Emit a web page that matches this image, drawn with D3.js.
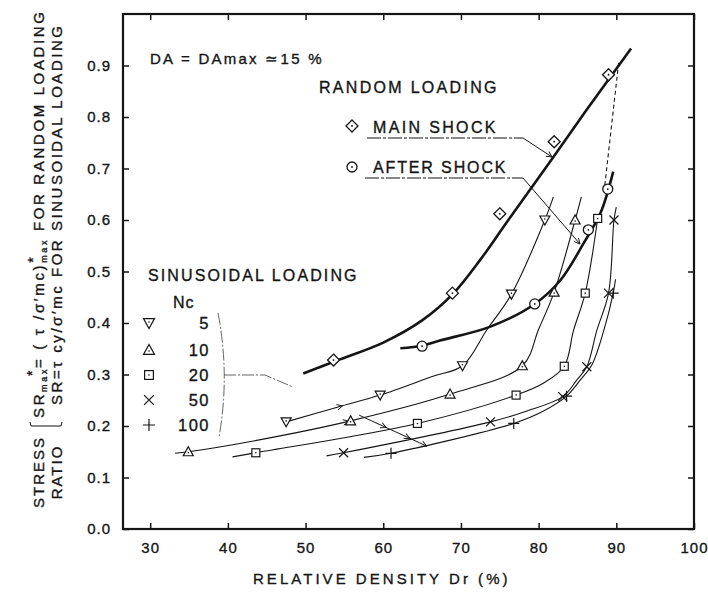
<!DOCTYPE html>
<html><head><meta charset="utf-8">
<script src="https://cdn.jsdelivr.net/npm/d3@7"></script>
<style>
body{margin:0;background:#fff}
svg{display:block}
text{font-family:"Liberation Sans",Arial,Helvetica,sans-serif;fill:#151515;stroke:#151515;stroke-width:0.35px}
</style>
</head><body>
<svg id="c" width="708" height="593"></svg>
<script>
// ---------- data ----------
const xTicks=[30,40,50,60,70,80,90,100];
const yTicks=[0,0.1,0.2,0.3,0.4,0.5,0.6,0.7,0.8,0.9];
const yTickLabels=["0.0","0.1","0.2","0.3","0.4","0.5","0.6","0.7","0.8","0.9"];

// random loading (thick curves)
const mainShockPts=[[53.6,0.328],[68.9,0.458],[75.0,0.612],[82.0,0.752],[89.0,0.882]];
const mainShockCurve=[[49.7,0.302],[54,0.327],[60,0.362],[65,0.405],[69,0.457],[72.5,0.523],[76.1,0.6],[81.7,0.718],[86,0.81],[91.9,0.933]];
const afterShockPts=[[65.0,0.355],[79.5,0.437],[86.4,0.581],[88.9,0.66]];
const afterShockCurve=[[62.2,0.351],[65,0.356],[67.3,0.366],[73.8,0.393],[79.5,0.437],[82.8,0.483],[85.8,0.555],[88,0.615],[89.6,0.694]];
const dashedLink=[[90.3,0.905],[88.5,0.665]];

// sinusoidal loading, Nc = 5,10,20,50,100
const ncLabels=["5","10","20","50","100"];
const nc5Pts=[[47.5,0.208],[59.6,0.26],[70.2,0.317],[76.5,0.456],[80.8,0.6]];
const nc5Curve=[[47.5,0.208],[54.2,0.237],[59.6,0.26],[66.3,0.296],[70.2,0.317],[73.3,0.386],[76.5,0.456],[80.8,0.6],[81.9,0.645]];
const nc10Pts=[[34.9,0.150],[55.8,0.210],[68.6,0.262],[77.9,0.317],[82.0,0.46],[84.7,0.6]];
const nc10Curve=[[33.2,0.147],[34.9,0.150],[43.3,0.171],[55.8,0.210],[68.6,0.262],[77.9,0.317],[80.0,0.388],[82.0,0.46],[84.7,0.6],[85.5,0.645]];
const nc20Pts=[[43.6,0.148],[64.4,0.205],[77.1,0.260],[83.3,0.316],[86.0,0.458],[87.6,0.603]];
const nc20Curve=[[40.6,0.140],[43.6,0.148],[64.4,0.205],[77.1,0.260],[80.6,0.283],[83.3,0.316],[84.5,0.386],[86.0,0.458],[87.6,0.603]];
const nc50Pts=[[54.9,0.148],[73.8,0.208],[83.1,0.257],[86.2,0.315],[89.0,0.458],[89.7,0.6]];
const nc50Curve=[[52.7,0.142],[54.9,0.148],[73.8,0.208],[78.5,0.229],[83.1,0.257],[84.9,0.289],[86.2,0.315],[87.5,0.386],[89.0,0.458],[89.7,0.6],[90.0,0.625]];
const nc100Pts=[[61.0,0.147],[76.8,0.205],[83.6,0.258],[89.6,0.458]];
const nc100Curve=[[57.5,0.139],[61.0,0.147],[76.8,0.205],[80.5,0.228],[83.6,0.258],[85.4,0.29],[86.9,0.32],[88.4,0.386],[89.6,0.458],[89.9,0.485]];
const arrowLine=[[56.9,0.221],[65.6,0.161]];

// ---------- layout ----------
const svg=d3.select("#c");
const L=123,R=694,T=14,B=529;
const x=d3.scaleLinear().domain([26.5,100]).range([L,R]);
const y=d3.scaleLinear().domain([0,1]).range([B,T]);
const ink="#151515";

svg.append("defs").append("marker").attr("id","ah").attr("viewBox","0 0 10 10")
 .attr("refX",9).attr("refY",5).attr("markerWidth",7).attr("markerHeight",7)
 .attr("orient","auto").attr("markerUnits","userSpaceOnUse")
 .append("path").attr("d","M1,1 L9,5 L1,9").attr("fill","none").attr("stroke",ink).attr("stroke-width",1.3);

function styleAxis(g){g.select(".domain").remove();g.selectAll(".tick line").attr("stroke",ink).attr("stroke-width",1.5);
 g.selectAll("text").style("font-size","15px").style("letter-spacing","1px").attr("fill",ink);}
svg.append("g").attr("transform",`translate(0,${B})`)
 .call(d3.axisBottom(x).tickValues(xTicks).tickSize(-6).tickPadding(13).tickFormat(d3.format("d"))).call(styleAxis);
svg.append("g").attr("transform",`translate(0,${T})`)
 .call(d3.axisTop(x).tickValues(xTicks).tickSize(-6).tickFormat("")).call(styleAxis);
svg.append("g").attr("transform",`translate(${L},0)`)
 .call(d3.axisLeft(y).tickValues(yTicks).tickSize(-6).tickPadding(12).tickFormat((d,i)=>yTickLabels[i])).call(styleAxis);
svg.append("g").attr("transform",`translate(${R},0)`)
 .call(d3.axisRight(y).tickValues(yTicks).tickSize(-6).tickFormat("")).call(styleAxis);
svg.append("rect").attr("x",L).attr("y",T).attr("width",R-L).attr("height",B-T)
 .attr("fill","none").attr("stroke",ink).attr("stroke-width",2.2);

const line=d3.line().x(d=>x(d[0])).y(d=>y(d[1])).curve(d3.curveCatmullRom.alpha(0.5));
const lineStraight=d3.line().x(d=>x(d[0])).y(d=>y(d[1]));
const plot=svg.append("g");
[nc5Curve,nc10Curve,nc20Curve,nc50Curve,nc100Curve].forEach(c=>{
 plot.append("path").attr("d",line(c)).attr("fill","none").attr("stroke",ink).attr("stroke-width",1.1);
});
plot.append("path").attr("d",line(mainShockCurve)).attr("fill","none").attr("stroke",ink).attr("stroke-width",2.6);
plot.append("path").attr("d",line(afterShockCurve)).attr("fill","none").attr("stroke",ink).attr("stroke-width",2.6);
plot.append("path").attr("d",lineStraight(dashedLink)).attr("fill","none").attr("stroke",ink).attr("stroke-width",1.1).attr("stroke-dasharray","4,3");

plot.append("path").attr("d",lineStraight(arrowLine)).attr("fill","none").attr("stroke",ink).attr("stroke-width",1).attr("marker-end","url(#ah)");
function arrowAt(a,b,t){const p=[a[0]+(b[0]-a[0])*t,a[1]+(b[1]-a[1])*t];
 const q=[a[0]+(b[0]-a[0])*(t-0.05),a[1]+(b[1]-a[1])*(t-0.05)];
 plot.append("path").attr("d",lineStraight([q,p])).attr("fill","none").attr("stroke","none").attr("marker-end","url(#ah)");}
arrowAt(arrowLine[0],arrowLine[1],0.4);
arrowAt(arrowLine[0],arrowLine[1],0.75);
arrowAt(nc5Curve[0],nc5Curve[2],0.6);
arrowAt(nc10Curve[2],nc10Curve[3],0.98);

function marker(g,type,cx,cy,s=1){
 const st=ink;
 if(type==="diamond"){g.append("path").attr("d",`M${cx},${cy-6*s}L${cx+6*s},${cy}L${cx},${cy+6*s}L${cx-6*s},${cy}Z`).attr("fill","#fff").attr("stroke",st).attr("stroke-width",1.3);
  g.append("circle").attr("cx",cx).attr("cy",cy).attr("r",0.9).attr("fill",st);}
 else if(type==="circle"){g.append("circle").attr("cx",cx).attr("cy",cy).attr("r",5*s).attr("fill","#fff").attr("stroke",st).attr("stroke-width",1.3);
  g.append("circle").attr("cx",cx).attr("cy",cy).attr("r",0.9).attr("fill",st);}
 else if(type==="tdown"){g.append("path").attr("d",`M${cx-5*s},${cy-4*s}L${cx+5*s},${cy-4*s}L${cx},${cy+5*s}Z`).attr("fill","#fff").attr("stroke",st).attr("stroke-width",1.2);
  g.append("circle").attr("cx",cx).attr("cy",cy-1).attr("r",0.8).attr("fill",st);}
 else if(type==="tup"){g.append("path").attr("d",`M${cx-5*s},${cy+4*s}L${cx+5*s},${cy+4*s}L${cx},${cy-5*s}Z`).attr("fill","#fff").attr("stroke",st).attr("stroke-width",1.2);
  g.append("circle").attr("cx",cx).attr("cy",cy+1).attr("r",0.8).attr("fill",st);}
 else if(type==="square"){g.append("rect").attr("x",cx-4*s).attr("y",cy-4*s).attr("width",8*s).attr("height",8*s).attr("fill","#fff").attr("stroke",st).attr("stroke-width",1.2);
  g.append("circle").attr("cx",cx).attr("cy",cy).attr("r",0.8).attr("fill",st);}
 else if(type==="x"){const r=4.5*s;g.append("path").attr("d",`M${cx-r},${cy-r}L${cx+r},${cy+r}M${cx-r},${cy+r}L${cx+r},${cy-r}`).attr("stroke",st).attr("stroke-width",1.2);}
 else if(type==="plus"){const r=5.5*s;g.append("path").attr("d",`M${cx-r},${cy}L${cx+r},${cy}M${cx},${cy-r}L${cx},${cy+r}`).attr("stroke",st).attr("stroke-width",1.2);}
}
const series=[[nc5Pts,"tdown"],[nc10Pts,"tup"],[nc20Pts,"square"],[nc50Pts,"x"],[nc100Pts,"plus"],[mainShockPts,"diamond"],[afterShockPts,"circle"]];
series.forEach(([pts,t])=>pts.forEach(p=>marker(plot,t,x(p[0]),y(p[1]))));

function txt(s,xx,yy,opt={}){const t=svg.append("text").attr("x",xx).attr("y",yy).text(s)
 .style("font-size",(opt.size||16)+"px").style("letter-spacing",(opt.ls==null?1.5:opt.ls)+"px");
 if(opt.len){t.attr("textLength",opt.len).attr("lengthAdjust","spacing");}
 if(opt.anchor)t.attr("text-anchor",opt.anchor);return t;}

txt("DA  = DAmax \u224315  %",150,64,{size:15,len:173});
txt("RANDOM LOADING",319,93,{size:16,len:179});
marker(svg,"diamond",352,126);
txt("MAIN SHOCK",373,133,{size:16,len:124});
marker(svg,"circle",352,167);
txt("AFTER SHOCK",373,173,{size:16,len:134});
svg.append("path").attr("d","M367,138L523,138").attr("stroke",ink).attr("stroke-width",1).attr("stroke-dasharray","14,2,3,2").attr("fill","none");
svg.append("path").attr("d","M523,138L552,157").attr("stroke",ink).attr("stroke-width",1).attr("fill","none").attr("marker-end","url(#ah)");
svg.append("path").attr("d","M365,178L523,178").attr("stroke",ink).attr("stroke-width",1).attr("stroke-dasharray","14,2,3,2").attr("fill","none");
svg.append("path").attr("d","M523,178L580,244").attr("stroke",ink).attr("stroke-width",1).attr("fill","none").attr("marker-end","url(#ah)");

txt("SINUSOIDAL LOADING",148,281,{size:16,len:210});
txt("Nc",173,308,{size:16,ls:1});
const legTypes=["tdown","tup","square","x","plus"];
const legY=[323,350,375,400,425];
legTypes.forEach((t,i)=>{marker(svg,t,149,legY[i],1.1);
 txt(ncLabels[i],210,legY[i]+6,{size:16.5,ls:1.5,anchor:"end"});});
svg.append("path").attr("d","M218,313Q230,375 219,437").attr("stroke","#555").attr("stroke-width",0.9).attr("fill","none").attr("stroke-dasharray","12,2,2,2");
svg.append("path").attr("d","M224,375L265,375L293,387").attr("stroke","#555").attr("stroke-width",0.9).attr("fill","none").attr("stroke-dasharray","12,2,2,2");

txt("RELATIVE DENSITY Dr (%)",381,584,{size:15,len:256,anchor:"middle"});

const yt=svg.append("g");
function rtext(s,xx,yy,opt={}){const t=yt.append("text").attr("transform",`translate(${xx},${yy}) rotate(-90)`)
 .style("font-size",(opt.size||15)+"px").style("letter-spacing",(opt.ls==null?1:opt.ls)+"px");
 if(opt.anchor)t.attr("text-anchor",opt.anchor);if(s)t.text(s);return t;}
rtext("STRESS",44,472,{anchor:"middle",ls:2});
rtext("RATIO",62,472,{anchor:"middle",ls:2});
yt.append("path").attr("d","M30,422L31,426L61,426L62,422").attr("fill","none").attr("stroke",ink).attr("stroke-width",1);
const l1=rtext(null,44,418,{});
l1.attr("textLength",407).attr("lengthAdjust","spacing");
l1.append("tspan").text("SR");
l1.append("tspan").text("max").style("font-size","9px").attr("dy",3);
l1.append("tspan").text("*").style("font-size","14px").attr("dx",-9).attr("dy",-10);
l1.append("tspan").text("= ( \u03C4 /\u03C3\u2032mc)").attr("dy",7);
l1.append("tspan").text("*").style("font-size","14px").attr("dy",-6);
l1.append("tspan").text("max").style("font-size","9px").attr("dx",-8).attr("dy",9);
l1.append("tspan").text(" FOR RANDOM LOADING").attr("dy",-3);
const l2=rtext(null,62,405,{});
l2.attr("textLength",380).attr("lengthAdjust","spacing");
l2.append("tspan").text("SR=\u03C4 cy/\u03C3\u2032mc  FOR SINUSOIDAL LOADING");
</script>
</body></html>
